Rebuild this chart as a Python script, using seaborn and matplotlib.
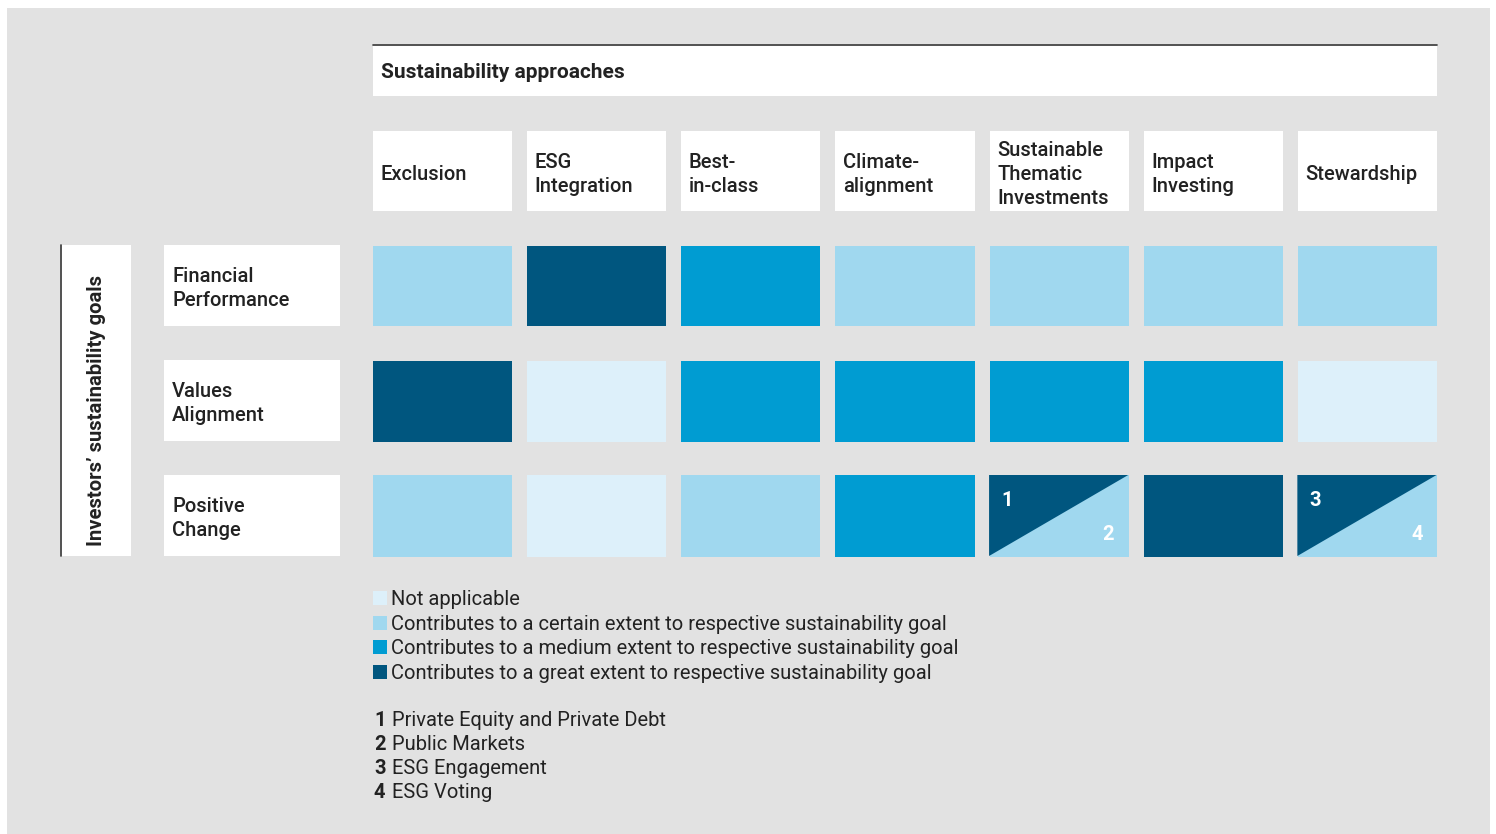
import numpy as np
import seaborn as sns
import matplotlib.pyplot as plt
from matplotlib.colors import ListedColormap
from matplotlib.patches import Rectangle, Patch

# --- data -----------------------------------------------------------------
approaches = ["Exclusion", "ESG\nIntegration", "Best-\nin-class", "Climate-\nalignment",
              "Sustainable\nThematic\nInvestments", "Impact\nInvesting", "Stewardship"]
goals = ["Financial\nPerformance", "Values\nAlignment", "Positive\nChange"]

# 0 = not applicable, 1 = certain extent, 2 = medium extent, 3 = great extent
financial_performance = [1, 3, 2, 1, 1, 1, 1]
values_alignment = [3, 0, 2, 2, 2, 2, 0]
positive_change = [1, 0, 1, 2, 1, 3, 1]

# split cells in "Positive Change": upper-left triangle level + footnote numbers
split_cols = [4, 6]
split_upper_level = [3, 3]
split_note_upper = ["1", "3"]
split_note_lower = ["2", "4"]

level_labels = ["Not applicable",
                "Contributes to a certain extent to respective sustainability goal",
                "Contributes to a medium extent to respective sustainability goal",
                "Contributes to a great extent to respective sustainability goal"]
note_numbers = ["1", "2", "3", "4"]
note_texts = ["Private Equity and Private Debt", "Public Markets", "ESG Engagement", "ESG Voting"]

# --- style ----------------------------------------------------------------
palette = ["#DDF0FA", "#A0D8EF", "#009CD2", "#00567F"]
gray = "#E2E2E2"
ink = "#222222"

sns.set_theme(style="white")
plt.rcParams["font.family"] = ["Roboto", "DejaVu Sans"]

W, H = 1496, 834
fig = plt.figure(figsize=(W / 100, H / 100), dpi=100, facecolor="white")


def fx(x):
    return x / W


def fy(y):
    return 1 - y / H


def box(x0, y0, x1, y1, color="white", z=-1):
    fig.patches.append(Rectangle((fx(x0), fy(y1)), fx(x1) - fx(x0), fy(y0) - fy(y1),
                                 transform=fig.transFigure, facecolor=color,
                                 edgecolor="none", zorder=z))


# grey panel
box(7, 8, 1490, 834, gray, z=-2)

FS = 14.5
gap = 15
grid_left, grid_right = 372.5, 1436.5
lw_pt = gap * 72 / 100


def row_axes(top, bottom, values, cmap):
    ax = fig.add_axes([fx(grid_left - gap / 2), fy(bottom + gap / 2),
                       fx(grid_right + gap / 2) - fx(grid_left - gap / 2),
                       fy(top - gap / 2) - fy(bottom + gap / 2)])
    sns.heatmap(np.array([values]), ax=ax, cmap=cmap, vmin=-0.5, vmax=len(cmap.colors) - 0.5,
                cbar=False, linewidths=lw_pt, linecolor=gray, xticklabels=False, yticklabels=False)
    ax.set_xlabel("")
    ax.set_ylabel("")
    return ax


# header row with approach names
hax = row_axes(130, 211, [0] * len(approaches), ListedColormap(["white"]))
pitch_x = (grid_right - grid_left + gap) / len(approaches)
for i, name in enumerate(approaches):
    hax.text(i + (gap / 2 + 8) / pitch_x, 0.54, name, ha="left", va="center",
             fontsize=FS, fontweight="medium", color=ink, linespacing=1.32)

# title box
box(373, 44, 1437, 96)
fig.add_artist(plt.Line2D([fx(373), fx(1437)], [fy(44.5), fy(44.5)],
                          color="#333333", lw=1.2))
fig.text(fx(381), fy(72.5), "Sustainability approaches", ha="left", va="center",
         fontsize=15, fontweight="bold", color=ink)

# vertical goals label
box(60, 245, 131, 556)
fig.add_artist(plt.Line2D([fx(60.5), fx(60.5)], [fy(245), fy(556)], color="#333333", lw=1.2))
fig.text(fx(97), fy(411), "Investors\u2019 sustainability goals", rotation=90,
         ha="center", va="center", fontsize=14.6, fontweight="bold", color=ink)

# data rows
rows = [financial_performance, values_alignment, positive_change]
row_tops = [245, 360, 475]
row_h = 81
cmap = ListedColormap(palette)
for goal, vals, top in zip(goals, rows, row_tops):
    ax = row_axes(top, top + row_h, vals, cmap)
    box(164, top, 340, top + row_h)
    fig.text(fx(172), fy(top + row_h / 2 + 3), goal, ha="left", va="center",
             fontsize=FS, fontweight="medium", color=ink, linespacing=1.32)
    last_ax = ax

# diagonal split cells
ix = (gap / 2) / pitch_x
iy = (gap / 2) / (row_h + gap)
for col, lvl, n_up, n_lo in zip(split_cols, split_upper_level, split_note_upper, split_note_lower):
    xl, xr = col + ix, col + 1 - ix
    yt, yb = iy, 1 - iy
    last_ax.fill([xl, xr, xl], [yt, yt, yb], color=palette[lvl], lw=0)
    last_ax.text(xl + 12 / pitch_x, yt + 26 / (row_h + gap), n_up, ha="left", va="center",
                 color="white", fontsize=FS, fontweight="bold")
    last_ax.text(xr - 14 / pitch_x, yb - 21 / (row_h + gap), n_lo, ha="right", va="center",
                 color="white", fontsize=FS, fontweight="bold")

# legend of levels
handles = [Patch(facecolor=c, edgecolor="none", label=l) for c, l in zip(palette, level_labels)]
fig.legend(handles=handles, loc="upper left", bbox_to_anchor=(fx(372.5), fy(590)),
           frameon=False, fontsize=FS, handlelength=0.7, handleheight=0.7,
           handletextpad=0.2, labelspacing=0.28, borderpad=0, borderaxespad=0,
           labelcolor=ink)

# footnotes
for k, (num, txt) in enumerate(zip(note_numbers, note_texts)):
    y = 721 + k * 24
    fig.text(fx(374), fy(y), num, ha="left", va="center", fontsize=FS,
             fontweight="bold", color=ink)
    fig.text(fx(392), fy(y), txt, ha="left", va="center", fontsize=FS, color=ink)

fig.savefig("out.png", dpi=100, facecolor="white")
